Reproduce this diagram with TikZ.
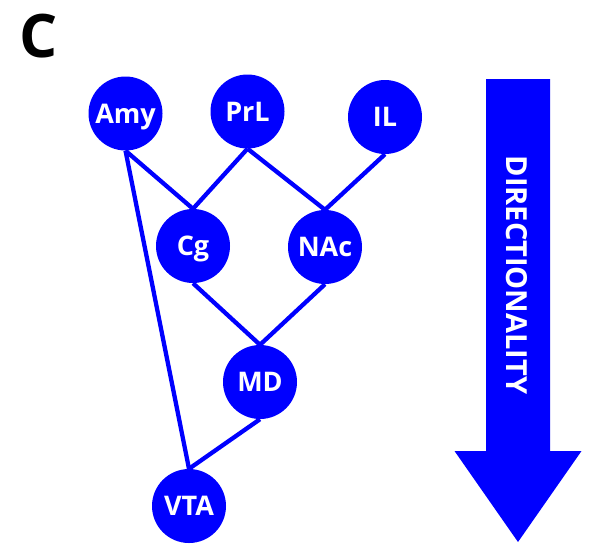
\documentclass[tikz,border=0pt]{standalone}
\usepackage{fontspec}
\setmainfont{Open Sans}
\definecolor{nblue}{RGB}{0,0,255}
\begin{document}
\begin{tikzpicture}[x=1pt,y=-1pt,
  region/.style={circle,fill=nblue,minimum size=74pt,inner sep=0pt,text=white,
    text height=19.3pt,text depth=0pt,
    font=\fontsize{27}{27}\selectfont\bfseries},
  link/.style={draw=nblue,line width=4.3pt}]
\useasboundingbox (0,0) rectangle (593,555);
\node[font=\fontsize{60}{60}\selectfont\bfseries,text=black] (lab) at (39,36) {C};
\node[region] (amy) at (125.5,113.5) {Amy};
\node[region] (prl) at (247.5,111.5) {PrL};
\node[region] (il) at (385,117) {IL};
\node[region] (cg) at (193,246) {Cg};
\node[region] (nac) at (325,247) {NAc};
\node[region] (md) at (260,382) {MD};
\node[region] (vta) at (189,506) {VTA};
\draw[link] (amy.south) -- (cg.north);
\draw[link] (amy.south) -- (vta.north);
\draw[link] (prl.south) -- (cg.north);
\draw[link] (prl.south) -- (nac.north);
\draw[link] (il.south) -- (nac.north);
\draw[link] (cg.south) -- (md.north);
\draw[link] (nac.south) -- (md.north);
\draw[link] (md.south) -- (vta.north);
\fill[nblue] (486,79) -- (550,79) -- (550,451) -- (581.5,451) -- (518,542) -- (454.5,451) -- (486,451) -- cycle;
\node[rotate=-90,text=white,font=\fontsize{29}{29}\selectfont\bfseries] (dir) at (517,275) {DIRECTIONALITY};
\end{tikzpicture}
\end{document}
